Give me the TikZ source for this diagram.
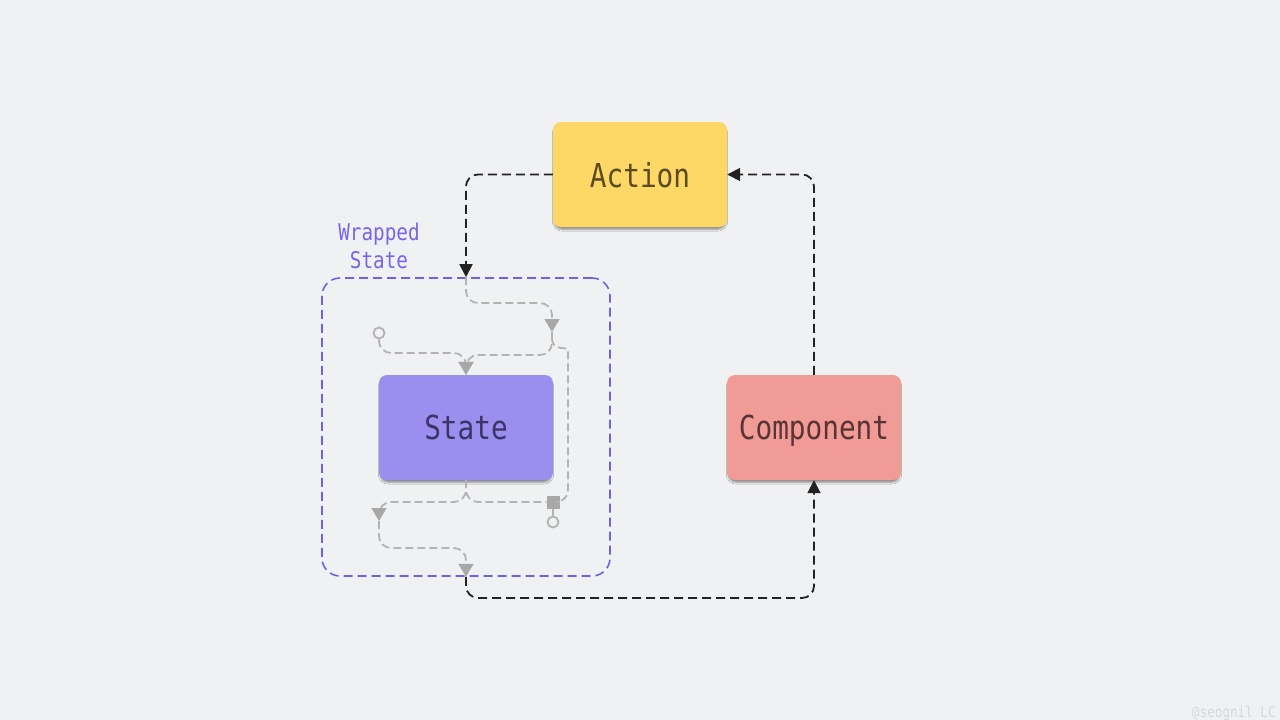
\documentclass[tikz,border=0pt]{standalone}
\usepackage{fontspec}
\newfontfamily\boxfont{DejaVu Sans Mono}[FakeStretch=0.84]
\usetikzlibrary{positioning,arrows.meta,shadows.blur}

\definecolor{bg}{HTML}{F0F1F3}
\definecolor{ink}{HTML}{222222}
\definecolor{pale}{HTML}{B3B3B3}
\definecolor{paletip}{HTML}{A8A8A8}
\definecolor{wrapline}{HTML}{7160E4}
\definecolor{wraptext}{HTML}{7A64E8}
\definecolor{actionfill}{HTML}{FDD866}
\definecolor{actiontext}{HTML}{5B4A22}
\definecolor{statefill}{HTML}{9B8EEE}
\definecolor{statetext}{HTML}{3C3466}
\definecolor{compfill}{HTML}{F09B95}
\definecolor{comptext}{HTML}{5A3335}
\definecolor{mark}{HTML}{D6D8DC}

\begin{document}
\begin{tikzpicture}[x=1pt,y=-1pt,
  box/.style={rounded corners=8pt, minimum width=174pt, minimum height=105pt,
    inner sep=0pt, text depth=0pt, font=\boxfont\fontsize{33}{36}\selectfont,
    blur shadow={shadow xshift=0pt, shadow yshift=-3pt, shadow scale=0.985,
      shadow blur radius=2pt, shadow blur steps=5, shadow opacity=45}},
  flow/.style={draw=ink, line width=1.8pt, dash pattern=on 9pt off 5pt,
    rounded corners=12pt, -{Triangle[length=13pt,width=13pt]}},
  inner/.style={draw=pale, line width=1.8pt, dash pattern=on 8pt off 4pt,
    rounded corners=12pt},
  innerarrow/.style={inner, -{Triangle[length=13pt,width=15pt,color=paletip]}}]

  \fill[bg] (0,0) rectangle (1280,720);
  \useasboundingbox (0,0) rectangle (1280,720);

  % boxes
  \node[box, fill=actionfill, text=actiontext] (Action) at (640,174.5) {Action};
  \node[box, fill=statefill, text=statetext] (State) at (466,427.5) {State};
  \node[box, fill=compfill, text=comptext] (Component) at (814,427.5) {Component};

  \node[draw=wrapline, line width=1.6pt, dash pattern=on 9pt off 5pt,
        rounded corners=18pt, minimum width=288pt, minimum height=298pt]
        (Wrap) at (466,427) {};
  \node[text=wraptext, align=center, font=\boxfont\fontsize{23}{28}\selectfont]
        (WrapLabel) at (379,246) {Wrapped\\State};

  % inner flow
  \coordinate (J1) at (552,332);
  \coordinate (J2) at (379,521);
  \node[circle, draw=pale, line width=1.8pt, fill=bg, minimum size=11pt,
        inner sep=0pt] (In) at (379,333) {};
  \node[fill=paletip, minimum size=13pt, inner sep=0pt] (Tap) at (553,502) {};
  \node[circle, draw=pale, line width=1.8pt, fill=bg, minimum size=11pt,
        inner sep=0pt] (Out) at (553,522) {};

  \draw[innerarrow] (Wrap.north) -- (466,303) -- (552,303) -- (J1);
  \draw[innerarrow] (J1) -- (552,355) -- (466,355) -- (State.north);
  \draw[innerarrow] (In) -- (379,353) -- (466,353) -- (State.north);
  \draw[inner] (552,338) .. controls (552,352) and (568,346) .. (568,362)
    -- (568,502) -- (Tap.east);
  \draw[inner] (State.south) -- (466,502) -- (Tap.west);
  \draw[draw=pale, line width=1.8pt] (Tap.south) -- (Out.north);
  \draw[innerarrow] (State.south) -- (466,502) -- (379,502) -- (J2);
  \draw[innerarrow] (J2) -- (379,548) -- (466,548) -- (Wrap.south);

  % outer flow
  \draw[flow] (Action.west) -| (Wrap.north);
  \draw[flow] (Wrap.south) -- (466,598) -| (Component.south);
  \draw[flow] (Component.north) |- (Action.east);

  \node[anchor=base west, text=mark, inner sep=0pt,
        font=\boxfont\fontsize{15}{18}\selectfont] (Mark) at (1192,717) {@seognil LC};

\end{tikzpicture}
\end{document}
